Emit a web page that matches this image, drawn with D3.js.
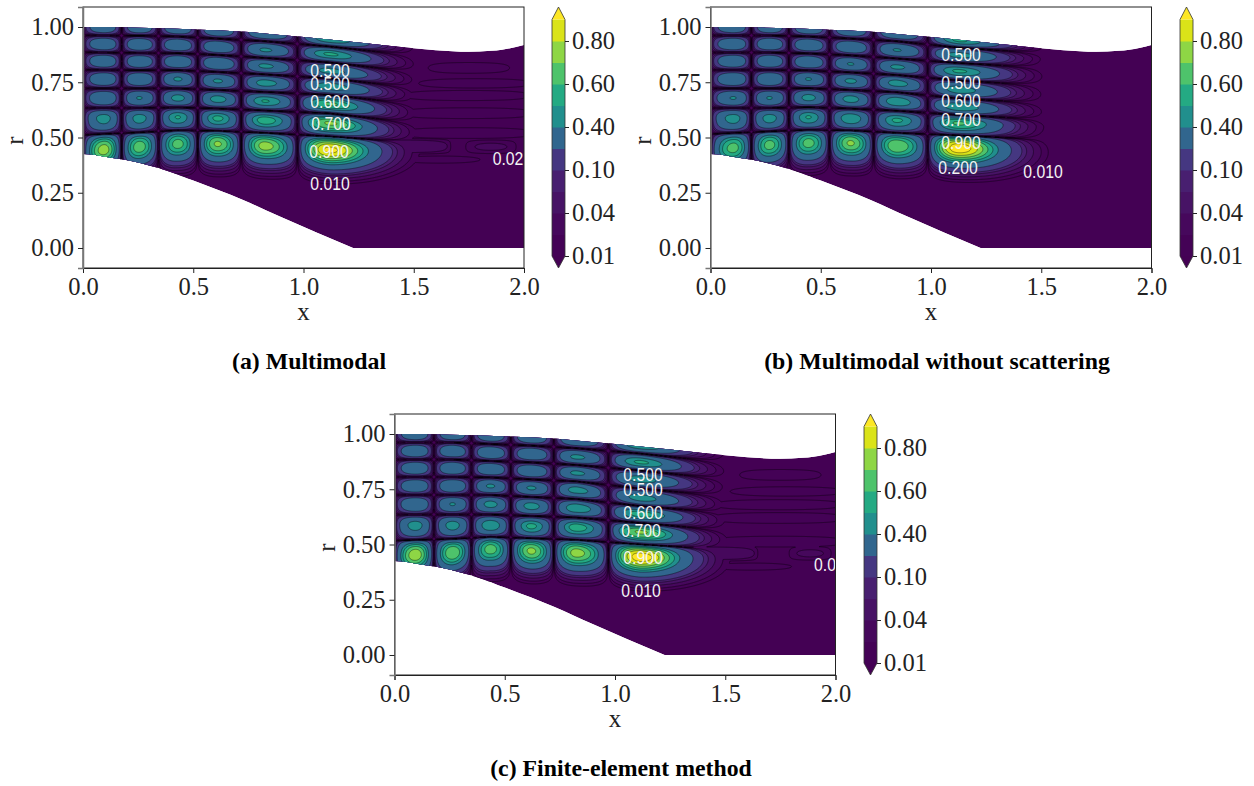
<!DOCTYPE html>
<html><head><meta charset="utf-8">
<script src="https://cdn.jsdelivr.net/npm/d3@7"></script>
<style>
html,body{margin:0;background:#fff}
svg{display:block}
.tick text{font-family:"Liberation Serif",serif;fill:#222}
</style></head><body><svg id="c" width="1254" height="786"></svg>
<script>
// ---- Data ----
const levels = [0.01,0.02,0.04,0.07,0.1,0.2,0.4,0.5,0.6,0.7,0.8,0.9];
const xTicks = [0,0.5,1,1.5,2];
const rTicks = [0,0.25,0.5,0.75,1];
const barTicks = [0.01,0.04,0.1,0.4,0.6,0.8];
// duct walls
const outerX = [0,0.1,0.25,0.35,0.5,0.75,0.893,1,1.25,1.5,1.6,1.75,1.85,1.9,2];
const outerR = [1,1,0.997,0.994,0.989,0.977,0.964,0.955,0.93,0.904,0.895,0.888,0.892,0.897,0.919];
const innerX = [0,0.05,0.1,0.213,0.38,0.5,0.726,0.893,1.225];
const innerR = [0.425,0.422,0.413,0.395,0.35,0.305,0.217,0.142,0];
// (a) Multimodal
const colXA = [0.095,0.255,0.43,0.61,0.825,1.12];
const rowRA = [
 [1,1,0.995,0.985,0.975,0.945,0.9],
 [0.923,0.921,0.919,0.91,0.896,0.878,0.82],
 [0.846,0.844,0.844,0.837,0.824,0.801,0.75],
 [0.765,0.765,0.765,0.756,0.747,0.733,0.68],
 [0.679,0.679,0.679,0.674,0.665,0.652,0.6],
 [0.588,0.588,0.593,0.588,0.579,0.566,0.51],
 [0.443,0.457,0.471,0.471,0.462,0.443,0.43]];
const peakA = [
 [0.36,0.36,0.37,0.37,0.38,0.5],
 [0.37,0.37,0.38,0.38,0.42,0.52],
 [0.37,0.37,0.38,0.39,0.43,0.45],
 [0.37,0.38,0.42,0.42,0.46,0.48],
 [0.38,0.41,0.45,0.46,0.51,0.62],
 [0.46,0.46,0.51,0.53,0.56,0.72],
 [0.76,0.67,0.65,0.72,0.75,0.93]];
// streaks beyond the last lobe: x centre, half length, r, value
const streakA = [[1.75,0.22,0.815,0.016],[1.78,0.34,0.745,0.014],[1.74,0.36,0.69,0.015],[1.74,0.36,0.61,0.016],[1.74,0.36,0.52,0.016],[1.85,0.12,0.458,0.024],[1.45,0.22,0.46,0.04],[1.62,0.3,0.4,0.012]];
const labelsA = [["0.500",330,71],["0.500",330,84],["0.600",330,102],["0.700",331,124],["0.900",329,152],["0.010",330,184],["0.02",508,159]];
// (b) Multimodal without scattering
const colXB = [0.104,0.267,0.444,0.635,0.844,1.125];
const rowRB = [
 [1,1,0.995,0.985,0.975,0.94,0.9],
 [0.923,0.923,0.919,0.91,0.896,0.873,0.85],
 [0.846,0.846,0.842,0.833,0.819,0.801,0.77],
 [0.765,0.765,0.765,0.756,0.747,0.715,0.69],
 [0.679,0.679,0.681,0.674,0.663,0.638,0.61],
 [0.588,0.588,0.593,0.588,0.579,0.566,0.543],
 [0.452,0.466,0.475,0.475,0.462,0.452,0.43]];
const peakB = [
 [0.36,0.36,0.37,0.37,0.38,0.52],
 [0.37,0.37,0.38,0.38,0.41,0.45],
 [0.37,0.37,0.38,0.41,0.43,0.52],
 [0.38,0.38,0.41,0.43,0.46,0.47],
 [0.41,0.41,0.45,0.46,0.5,0.5],
 [0.46,0.46,0.51,0.5,0.52,0.62],
 [0.65,0.65,0.65,0.72,0.7,0.98]];
const streakB = [];
const labelsB = [["0.500",961,55],["0.500",961,83],["0.600",961,101],["0.700",961,120],["0.900",961,143],["0.200",958,168],["0.010",1043,172]];
// (c) Finite-element method
const colXC = [0.095,0.263,0.435,0.62,0.825,1.115];
const rowRC = [
 [1,1,0.995,0.985,0.975,0.95,0.9],
 [0.923,0.923,0.914,0.91,0.896,0.873,0.82],
 [0.846,0.846,0.842,0.833,0.824,0.796,0.75],
 [0.765,0.765,0.765,0.756,0.747,0.71,0.67],
 [0.683,0.683,0.683,0.674,0.665,0.638,0.6],
 [0.588,0.588,0.588,0.584,0.579,0.557,0.51],
 [0.452,0.462,0.48,0.471,0.462,0.443,0.43]];
const peakC = [
 [0.36,0.36,0.37,0.37,0.38,0.5],
 [0.37,0.37,0.38,0.38,0.43,0.52],
 [0.37,0.37,0.38,0.38,0.43,0.46],
 [0.37,0.38,0.42,0.42,0.46,0.46],
 [0.38,0.41,0.45,0.46,0.5,0.56],
 [0.46,0.46,0.5,0.53,0.56,0.72],
 [0.78,0.7,0.66,0.73,0.75,0.97]];
const streakC = [[1.75,0.22,0.815,0.016],[1.78,0.34,0.74,0.014],[1.74,0.36,0.68,0.015],[1.74,0.36,0.62,0.016],[1.74,0.36,0.513,0.016],[1.885,0.1,0.46,0.024],[1.43,0.22,0.46,0.04],[1.62,0.3,0.4,0.012]];
const labelsC = [["0.500",643,475],["0.500",643,490],["0.600",643,513],["0.700",641,531],["0.900",643,558],["0.010",641,591],["0.0",825,565]];
const captions = [["(a) Multimodal",309,362],["(b) Multimodal without scattering",937,362],["(c) Finite-element method",621,769]];

// ---- Drawing ----
const svg = d3.select("#c");
const W = 441, H = 261, K = 2;
const rDomain = [1.0905,-0.0905];
const nLev = levels.length;
const mid = levels.map((v,i)=> i<nLev-1 ? (v+levels[i+1])/2 : 0.95);
const colorOf = v => d3.interpolateViridis(Math.max(0,Math.min(1,(v-levels[0])/(levels[nLev-1]-levels[0]))));
const bandColors = mid.map(colorOf);
const under = d3.interpolateViridis(0), over = d3.interpolateViridis(1);

function fieldFn(colX,rowR,peak,streak){
  const px = colX.concat([1.6]);
  const rowScale = rowR.map(row=>d3.scaleLinear().domain(px).range(row));
  const nC = colX.length, nR = rowR.length;
  const nodes = colX.map((c,i)=> i===0 ? 0 : (colX[i-1]+c)/2);
  const cosF = (d,w,e=0.85)=> d>=w ? 0 : Math.pow(Math.cos(Math.PI/2*d/w),e);
  return function(x,r){
    if(x<0) return 0;
    let col = nC-1;
    while(col>0 && x<nodes[col]) col--;
    const cx = colX[col];
    let fx;
    if(x<cx) fx = cosF(cx-x,cx-nodes[col]);
    else if(col===nC-1) fx = Math.exp(-Math.pow((x-cx)/0.19,2));
    else fx = cosF(x-cx,(colX[col+1]-cx)/2);
    const c = rowScale.map(s=>s(x));
    let row = 0;
    while(row<nR-1 && r<(c[row]+c[row+1])/2) row++;
    const d = Math.abs(r-c[row]);
    let fr;
    if(r>=c[row]) fr = row===0 ? 1 : cosF(d,(c[row-1]-c[row])/2, row===nR-1 ? 0.55 : 0.85);
    else if(row===nR-1) fr = Math.exp(-Math.pow(d/0.072,2));
    else fr = cosF(d,(c[row]-c[row+1])/2);
    let v = peak[row][col]*fx*fr;
    for(const [sx,sl,sr,sv] of streak){
      const dx = Math.abs(x-sx), dr = Math.abs(r-sr);
      if(dx<sl && dr<0.04){
        const q = sv*Math.pow(cosF(dx,sl),0.4)*cosF(dr,0.04);
        if(q>v) v=q;
      }
    }
    return v;
  };
}

function panel(ox,oy,barX,colX,rowR,peak,streak,labels,id){
  const x = d3.scaleLinear().domain([0,2]).range([0,W]);
  const y = d3.scaleLinear().domain(rDomain).range([0,H]);
  const g = svg.append("g").attr("transform",`translate(${ox},${oy})`);
  const defs = svg.append("defs");
  const outerLine = d3.line().x(i=>x(outerX[i])).y(i=>y(outerR[i])).curve(d3.curveMonotoneX);
  const innerLine = d3.line().x(i=>x(innerX[i])).y(i=>y(innerR[i])).curve(d3.curveMonotoneX);
  const wallD = outerLine(d3.range(outerX.length)) + `L${x(2)},${y(0)}`
    + "L" + innerLine(d3.range(innerX.length).reverse()).slice(1) + "Z";
  defs.append("clipPath").attr("id","wall"+id).append("path").attr("d",wallD);
  defs.append("clipPath").attr("id","ax"+id).append("rect").attr("width",W).attr("height",H);

  const f = fieldFn(colX,rowR,peak,streak);
  const nx = W*K, ny = H*K, vals = new Float64Array(nx*ny);
  for(let j=0;j<ny;j++){
    const r = y.invert((j+0.5)/K);
    for(let i=0;i<nx;i++) vals[j*nx+i] = f(x.invert((i+0.5)/K),r);
  }
  const cont = d3.contours().size([nx,ny]).thresholds(levels)(vals);
  const path = d3.geoPath(d3.geoIdentity().scale(1/K));

  const plot = g.append("g").attr("clip-path",`url(#wall${id})`);
  plot.append("path").attr("d",wallD).attr("fill",under);
  plot.selectAll("path.band").data(cont).join("path").attr("class","band")
    .attr("d",path).attr("fill",(d,i)=> i===nLev-1 ? over : bandColors[i]);
  plot.selectAll("path.line").data(cont).join("path").attr("class","line")
    .attr("d",path).attr("fill","none").attr("stroke","#000").attr("stroke-width",0.55).attr("stroke-opacity",0.75);

  // contour labels (page coordinates minus panel origin)
  const lab = g.append("g").attr("clip-path",`url(#ax${id})`);
  lab.selectAll("text").data(labels).join("text")
    .attr("transform",d=>`translate(${d[1]-ox},${d[2]-oy+6}) scale(0.9,1)`)
    .attr("text-anchor","middle").attr("font-family","Liberation Sans, sans-serif")
    .attr("font-size",17.5).attr("fill","#f4f4f4").text(d=>d[0]);

  // frame and axes
  g.append("rect").attr("width",W).attr("height",H).attr("fill","none").attr("stroke","#222").attr("stroke-width",1);
  const ax = g.append("g").attr("transform",`translate(0,${H})`)
    .call(d3.axisBottom(x).tickValues(xTicks).tickFormat(d3.format(".1f")).tickSize(5).tickPadding(5));
  const ay = g.append("g").call(d3.axisLeft(y).tickValues(rTicks).tickFormat(d3.format(".2f")).tickSize(5).tickPadding(4));
  for(const a of [ax,ay]){
    a.select(".domain").attr("stroke","#222");
    a.selectAll("line").attr("stroke","#222");
    a.selectAll("text").attr("font-size",24.5);
  }
  ay.select(".domain").attr("stroke","#777").attr("stroke-width",1.5);
  g.append("text").attr("x",W/2-0).attr("y",H+52).attr("text-anchor","middle")
    .attr("font-family","Liberation Serif, serif").attr("font-size",25).attr("fill","#222").text("x");
  g.append("text").attr("transform",`translate(${-60},${H/2+3}) rotate(-90)`).attr("text-anchor","middle")
    .attr("font-family","Liberation Serif, serif").attr("font-size",25).attr("fill","#222").text("r");

  // colourbar
  const bw = 13, b = g.append("g").attr("transform",`translate(${barX-ox},0)`);
  const by = d3.scalePoint().domain(levels).range([249,12.5]);
  b.selectAll("rect").data(levels.slice(0,-1)).join("rect")
    .attr("x",0).attr("width",bw).attr("y",(d,i)=>by(levels[i+1])).attr("height",(d,i)=>by(d)-by(levels[i+1])+0.5)
    .attr("fill",(d,i)=>bandColors[i]);
  const tip = d3.line();
  b.append("path").attr("d",tip([[0,by(0.9)],[bw/2,0],[bw,by(0.9)]])+"Z").attr("fill",over);
  b.append("path").attr("d",tip([[0,by(0.01)],[bw/2,H],[bw,by(0.01)]])+"Z").attr("fill",under);
  b.append("path").attr("d",tip([[0,by(0.9)],[bw/2,0],[bw,by(0.9)],[bw,by(0.01)],[bw/2,H],[0,by(0.01)]])+"Z")
    .attr("fill","none").attr("stroke","#333").attr("stroke-width",0.8);
  const ab = b.append("g").attr("transform",`translate(${bw},0)`)
    .call(d3.axisRight(by).tickValues(barTicks).tickFormat(d3.format(".2f")).tickSize(4).tickPadding(3));
  ab.select(".domain").remove();
  ab.selectAll("line").attr("stroke","#222");
  ab.selectAll("text").attr("font-size",24.5);
}

panel(83,7,552,colXA,rowRA,peakA,streakA,labelsA,"a");
panel(710.5,7,1180,colXB,rowRB,peakB,streakB,labelsB,"b");
panel(394.5,414,864,colXC,rowRC,peakC,streakC,labelsC,"c");

svg.selectAll("text.cap").data(captions).join("text").attr("class","cap")
  .attr("x",d=>d[1]).attr("y",d=>d[2]+7).attr("text-anchor","middle")
  .attr("font-family","Liberation Serif, serif").attr("font-weight","bold").attr("font-size",23.8).attr("fill","#000")
  .text(d=>d[0]);
</script></body></html>
